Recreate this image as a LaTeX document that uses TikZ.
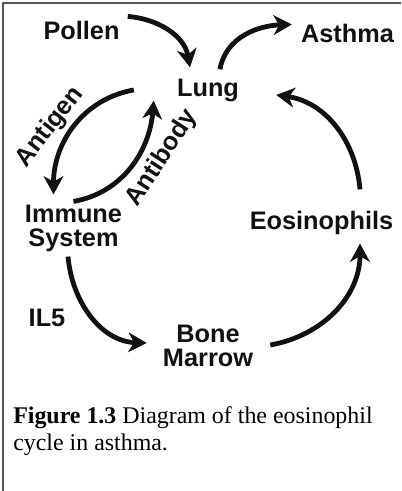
\documentclass[tikz,border=0pt]{standalone}
\usepackage{fontspec}
\setmainfont{Liberation Serif}
\setsansfont{Liberation Sans}
\usetikzlibrary{arrows.meta,positioning}
\definecolor{ink}{HTML}{111111}
\definecolor{frame}{HTML}{555555}

\begin{document}
\begin{tikzpicture}[x=0.025cm,y=0.025cm,
  term/.style={font=\sffamily\bfseries\fontsize{18}{17}\selectfont,text=ink,
               inner sep=0pt,align=center},
  arr/.style={-{Stealth[length=13pt,width=14pt,inset=4pt]},line width=3.4pt,draw=ink},
  capt/.style={font=\fontsize{17}{19.5}\selectfont,inner sep=0pt,align=left}]
  \useasboundingbox (0,0) rectangle (401,491);
  \draw[frame,line width=0.8pt] (3,0) -- (3,488) -- (401,488);

  \node[term,anchor=base] (pol) at (81.5,451) {Pollen};
  \node[term,anchor=base] (lung) at (208,394) {Lung};
  \node[term,anchor=base] (asth) at (347.5,448) {Asthma};
  \node[term,anchor=base] (eos) at (321.5,261) {Eosinophils};
  \node[term,anchor=base] (il) at (47,164) {IL5};
  \node[term] (imm) at (73.5,263) {Immune\\System};
  \node[term] (bm) at (208,145.5) {Bone\\Marrow};

  \node[term,rotate=52] (antg) at (50,364) {Antigen};
  \node[term,rotate=57] (antb) at (162,333) {Antibody};

  \draw[arr] ([shift={(8,5)}]pol.north east) to[out=-5,in=100] ([shift={(-18,12)}]lung.north);
  \draw[arr] ([shift={(12,10)}]lung.north) to[out=80,in=182] ([shift={(-9,9.5)}]asth.west);
  \draw[arr] ([shift={(-43,1)}]lung.west) to[out=190,in=90] ([shift={(-20,10)}]imm.north);
  \draw[arr] ([shift={(0,3)}]imm.north) to[out=10,in=265] ([shift={(-23,2)}]lung.south west);
  \draw[arr] ([shift={(38.5,22)}]eos.north) to[out=95,in=-8] ([shift={(37,-4)}]lung.east);
  \draw[arr] ([shift={(-5.5,-5)}]imm.south) to[out=-85,in=178] ([shift={(-16,2.5)}]bm.west);
  \draw[arr] ([shift={(17,0.5)}]bm.east) to[out=10,in=-90] ([shift={(38.5,-8)}]eos.south);

  \node[capt,anchor=north west] (cap) at (13,85)
    {\textbf{Figure 1.3} Diagram of the eosinophil\\cycle in asthma.};
\end{tikzpicture}
\end{document}
